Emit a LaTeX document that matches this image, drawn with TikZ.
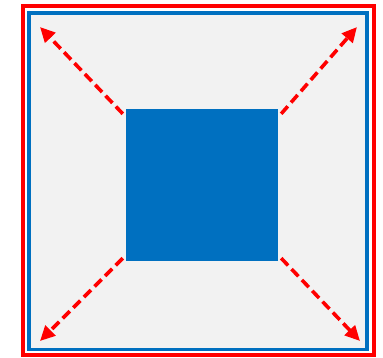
\documentclass[tikz,border=0pt]{standalone}
\usetikzlibrary{arrows.meta}
\definecolor{myblue}{HTML}{0070C0}
\definecolor{mygray}{HTML}{F2F2F2}
\definecolor{myred}{HTML}{FF0000}
\tikzset{
  outerframe/.style={draw=myred, line width=3.5pt},
  innerframe/.style={draw=myblue, fill=mygray, line width=3.5pt},
  core/.style={fill=myblue, draw=none},
  spread/.style={draw=myred, line width=3.6pt, dash pattern=on 10pt off 5pt,
    -{Triangle[length=15pt,width=14pt]}}
}
\begin{document}
\begin{tikzpicture}[x=1pt,y=-1pt]
\useasboundingbox (0,0) rectangle (383,357);
\draw[outerframe] (23,6) rectangle (374,355);
\draw[innerframe] (29,13) rectangle (367,349.5);
\node[core, minimum width=152pt, minimum height=152pt, inner sep=0pt] (c) at (202,185) {};
\coordinate (tl) at (40,27);
\coordinate (tr) at (357,27);
\coordinate (bl) at (40,341);
\coordinate (br) at (360,341);
\draw[spread] ([shift={(-3pt,-5pt)}]c.north west) -- (tl);
\draw[spread] ([shift={(3pt,-5pt)}]c.north east) -- (tr);
\draw[spread] ([shift={(-3pt,3pt)}]c.south west) -- (bl);
\draw[spread] ([shift={(3pt,3pt)}]c.south east) -- (br);
\end{tikzpicture}
\end{document}
